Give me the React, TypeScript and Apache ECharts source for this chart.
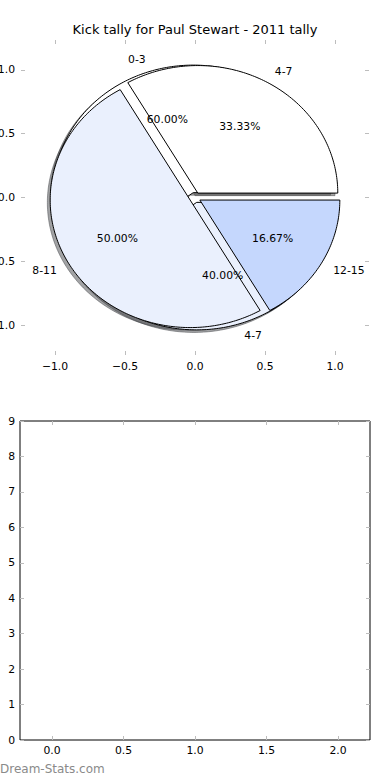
import React, { useEffect, useRef } from "react";
import * as echarts from "echarts";

// ---- data ----
const titleText = "Kick tally for Paul Stewart - 2011 tally";
const pieALabels = ["0-3", "4-7"];
const pieAValues = [3, 2];
const pieBLabels = ["4-7", "8-11", "12-15"];
const pieBValues = [2, 3, 1];
const pieAColors = ["#ffffff", "#eaf0fd"];
const pieBColors = ["#ffffff", "#eaf0fd", "#c5d7fd"];
const pieTicks = [-1, -0.5, 0, 0.5, 1];
const barXTicks = [0, 0.5, 1, 1.5, 2];
const watermark = "Dream-Stats.com";

// ---- style constants ----
const FONT = '"DejaVu Sans", "Liberation Sans", sans-serif';
const TICK = "#bdbdbd";
const EXPLODE = 0.04;
const LABEL_DIST = 1.1;
const PCT_DIST = 0.6;
const SHADOW = -0.02;
const PIE_XLIM = 1.243;
const PIE_YLIM = 1.235;
const BAR_XMIN = -0.224;
const BAR_XMAX = 2.224;

type Wedge = { start: number; end: number; label: string; pct: string; color: string };

function buildWedges(values: number[], labels: string[], colors: string[]): Wedge[] {
  const total = values.reduce((a, b) => a + b, 0);
  let cum = 0;
  return values.map((v, i) => {
    const start = (cum / total) * 360;
    cum += v;
    const end = (cum / total) * 360;
    return { start, end, label: labels[i], pct: ((v / total) * 100).toFixed(2) + "%", color: colors[i] };
  });
}

const wedgesA = buildWedges(pieAValues, pieALabels, pieAColors);
const wedgesB = buildWedges(pieBValues, pieBLabels, pieBColors);
const allWedges = [...wedgesA, ...wedgesB];

const rad = (d: number) => (d * Math.PI) / 180;

function wedgePoints(api: any, w: Wedge, dx: number, dy: number) {
  const mid = rad((w.start + w.end) / 2);
  const cx = EXPLODE * Math.cos(mid) + dx;
  const cy = EXPLODE * Math.sin(mid) + dy;
  const pts: number[][] = [api.coord([cx, cy])];
  const steps = Math.max(2, Math.ceil(w.end - w.start));
  for (let i = 0; i <= steps; i++) {
    const t = rad(w.start + ((w.end - w.start) * i) / steps);
    pts.push(api.coord([cx + Math.cos(t), cy + Math.sin(t)]));
  }
  return pts;
}

function shadowColor(hex: string) {
  const n = parseInt(hex.slice(1), 16);
  const r = Math.round(((n >> 16) & 255) * 0.3);
  const g = Math.round(((n >> 8) & 255) * 0.3);
  const b = Math.round((n & 255) * 0.3);
  return `rgba(${r},${g},${b},0.5)`;
}

function wedgeSeries(wedges: Wedge[], z: number) {
  return {
    type: "custom",
    xAxisIndex: 0,
    yAxisIndex: 0,
    z,
    clip: false,
    silent: true,
    data: wedges.map(() => [0, 0]),
    encode: { x: 0, y: 1 },
    renderItem: (params: any, api: any) => {
      const w = wedges[params.dataIndex];
      return {
        type: "polygon",
        shape: { points: wedgePoints(api, w, 0, 0) },
        style: { fill: w.color, stroke: "#000", lineWidth: 1 },
      };
    },
  };
}

function textSeries(wedges: Wedge[], z: number) {
  return {
    type: "custom",
    xAxisIndex: 0,
    yAxisIndex: 0,
    z,
    clip: false,
    silent: true,
    data: wedges.map(() => [0, 0]),
    encode: { x: 0, y: 1 },
    renderItem: (params: any, api: any) => {
      const w = wedges[params.dataIndex];
      const mid = rad((w.start + w.end) / 2);
      const ex = EXPLODE * Math.cos(mid);
      const ey = EXPLODE * Math.sin(mid);
      const lp = api.coord([ex + LABEL_DIST * Math.cos(mid), ey + LABEL_DIST * Math.sin(mid)]);
      const pp = api.coord([ex + PCT_DIST * Math.cos(mid), ey + PCT_DIST * Math.sin(mid)]);
      const font = `10.8px ${FONT}`;
      return {
        type: "group",
        children: [
          {
            type: "text",
            x: lp[0],
            y: lp[1],
            style: {
              text: w.label,
              fill: "#000",
              font,
              align: Math.cos(mid) > 0 ? "left" : "right",
              verticalAlign: "middle",
            },
          },
          {
            type: "text",
            x: pp[0],
            y: pp[1],
            style: { text: w.pct, fill: "#000", font, align: "center", verticalAlign: "middle" },
          },
        ],
      };
    },
  };
}

const fmt1 = (v: number) => (v < 0 ? "\u2212" + Math.abs(v).toFixed(1) : v.toFixed(1));

const tickStyle = (values?: number[]) => ({
  show: true,
  inside: true,
  length: 4,
  lineStyle: { color: TICK, width: 1 },
  ...(values ? { customValues: values } : {}),
});

const labelStyle = (extra: any) => ({
  color: "#000",
  fontSize: 10.8,
  fontFamily: FONT,
  ...extra,
});

const noLine = { show: false, onZero: false };

export default function App() {
  const ref = useRef<HTMLDivElement>(null);
  useEffect(() => {
    if (!ref.current) return;
    const chart = echarts.init(ref.current, null, { renderer: "svg" });
    const option: any = {
      animation: false,
      backgroundColor: "#fff",
      title: {
        text: titleText,
        left: "center",
        top: 23,
        padding: 0,
        textStyle: { fontSize: 13, fontWeight: "normal", color: "#000", fontFamily: FONT },
      },
      grid: [
        { left: 21, top: 40, width: 348, height: 315, show: false, containLabel: false, outerBoundsMode: "none" },
        {
          left: 20, top: 421, width: 350, height: 319, show: true, borderColor: "#000", borderWidth: 1,
          backgroundColor: "transparent", containLabel: false, outerBoundsMode: "none",
        },
      ],
      xAxis: [
        {
          gridIndex: 0, type: "value", position: "bottom", min: -PIE_XLIM, max: PIE_XLIM,
          axisLine: noLine, axisTick: tickStyle(pieTicks), splitLine: { show: false },
          axisLabel: labelStyle({ customValues: pieTicks, formatter: fmt1, margin: 6 }),
        },
        {
          gridIndex: 0, type: "value", position: "top", min: -PIE_XLIM, max: PIE_XLIM,
          axisLine: noLine, axisTick: tickStyle(pieTicks), splitLine: { show: false },
          axisLabel: { show: false },
        },
        {
          gridIndex: 1, type: "value", position: "bottom", min: BAR_XMIN, max: BAR_XMAX,
          axisLine: noLine, axisTick: tickStyle(barXTicks), splitLine: { show: false },
          axisLabel: labelStyle({ customValues: barXTicks, formatter: (v: number) => v.toFixed(1), margin: 5 }),
        },
        {
          gridIndex: 1, type: "value", position: "top", min: BAR_XMIN, max: BAR_XMAX,
          axisLine: noLine, axisTick: tickStyle(barXTicks), splitLine: { show: false },
          axisLabel: { show: false },
        },
      ],
      yAxis: [
        {
          gridIndex: 0, type: "value", position: "left", min: -PIE_YLIM, max: PIE_YLIM,
          axisLine: noLine, axisTick: tickStyle(pieTicks), splitLine: { show: false },
          axisLabel: labelStyle({ customValues: pieTicks, formatter: fmt1, margin: 6 }),
        },
        {
          gridIndex: 0, type: "value", position: "right", min: -PIE_YLIM, max: PIE_YLIM,
          axisLine: noLine, axisTick: tickStyle(pieTicks), splitLine: { show: false },
          axisLabel: { show: false },
        },
        {
          gridIndex: 1, type: "value", position: "left", min: 0, max: 9, interval: 1,
          axisLine: noLine, axisTick: tickStyle(), splitLine: { show: false },
          axisLabel: labelStyle({ margin: 5, formatter: (v: number) => String(v) }),
        },
        {
          gridIndex: 1, type: "value", position: "right", min: 0, max: 9, interval: 1,
          axisLine: noLine, axisTick: tickStyle(), splitLine: { show: false },
          axisLabel: { show: false },
        },
      ],
      series: [
        {
          type: "custom",
          xAxisIndex: 0,
          yAxisIndex: 0,
          z: 1,
          clip: false,
          silent: true,
          data: allWedges.map(() => [0, 0]),
          encode: { x: 0, y: 1 },
          renderItem: (params: any, api: any) => {
            const w = allWedges[params.dataIndex];
            const c = shadowColor(w.color);
            return {
              type: "polygon",
              shape: { points: wedgePoints(api, w, SHADOW, SHADOW) },
              style: { fill: c, stroke: c, lineWidth: 1 },
            };
          },
        },
        wedgeSeries(wedgesA, 2),
        wedgeSeries(wedgesB, 3),
        textSeries(wedgesA, 4),
        textSeries(wedgesB, 4),
      ],
      graphic: [
        {
          type: "text",
          left: 0,
          top: 763,
          style: { text: watermark, fill: "#8a8a8a", font: `12px ${FONT}` },
        },
      ],
    };
    chart.setOption(option);
    return () => chart.dispose();
  }, []);
  return (
    <div
      ref={ref}
      style={{ position: "fixed", left: 0, top: 0, width: 390, height: 780, background: "#fff" }}
    />
  );
}
